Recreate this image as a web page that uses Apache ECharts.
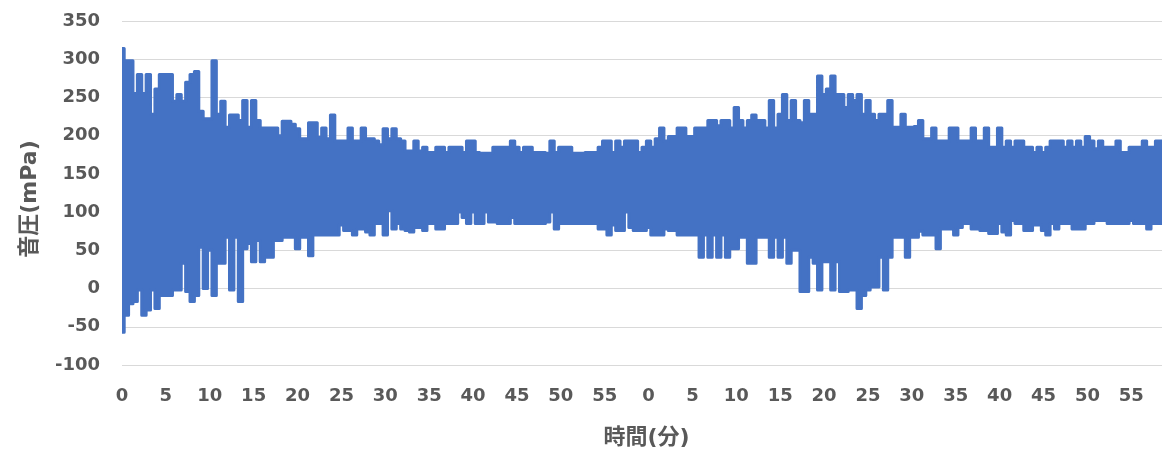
<!DOCTYPE html>
<html>
<head>
<meta charset="utf-8">
<title>音圧の時間変化</title>
<script src="https://cdn.jsdelivr.net/npm/echarts@6/dist/echarts.min.js"></script>
<style>
  html, body { margin: 0; padding: 0; background: #ffffff; }
  #chart { width: 1162px; height: 454px; }
</style>
</head>
<body>
<div id="chart"></div>
<script>
// Sampling step of the envelope readings, in minutes (two recorded hours back to back).
const STEP_MIN = 0.5;

// Upper envelope of the sound pressure signal (mPa), one value every 0.5 min.
const HIGH = [
  314, 298, 298, 255, 280, 255, 280, 228, 261, 280, 280, 280, 245, 254, 245, 270, 280, 284, 232, 222,
  222, 298, 228, 245, 211, 227, 227, 220, 246, 211, 246, 220, 210, 210, 210, 210, 200, 219, 219, 215,
  209, 196, 196, 217, 217, 198, 210, 196, 227, 193, 193, 193, 210, 193, 193, 210, 196, 196, 193, 188,
  209, 196, 209, 196, 193, 180, 180, 193, 180, 185, 178, 178, 185, 185, 178, 185, 185, 185, 178, 193,
  193, 178, 177, 177, 177, 185, 185, 185, 185, 193, 185, 178, 185, 185, 178, 178, 178, 177, 193, 178,
  185, 185, 185, 177, 177, 177, 178, 178, 178, 185, 193, 193, 178, 193, 185, 193, 193, 193, 178, 185,
  193, 185, 196, 210, 193, 199, 199, 210, 210, 199, 199, 210, 210, 210, 220, 220, 213, 220, 220, 210,
  237, 220, 210, 220, 227, 220, 220, 210, 246, 210, 228, 254, 220, 246, 220, 217, 246, 228, 228, 278,
  254, 261, 278, 254, 254, 237, 254, 246, 254, 228, 246, 228, 220, 228, 228, 246, 211, 211, 228, 211,
  211, 212, 220, 196, 196, 210, 193, 193, 193, 210, 210, 193, 193, 193, 210, 193, 193, 210, 185, 185,
  210, 185, 193, 185, 193, 193, 185, 185, 178, 185, 178, 185, 193, 193, 193, 185, 193, 185, 193, 185,
  199, 193, 183, 193, 185, 185, 185, 193, 178, 178, 185, 185, 185, 193, 185, 185, 193, 193
];

// Lower envelope of the sound pressure signal (mPa), same sampling.
const LOW = [
  -57, -35, -20, -17,  -2, -35, -28,  -2, -26,  -9,  -9,  -9,  -2,  -2,  33,  -4, -17,  -9,  54,   0,
   50,  -9,  33,  33,  67,  -2,  67, -17,  52,  59,  35,  63,  35,  41,  41,  63,  63,  67,  67,  67,
   52,  67,  67,  43,  70,  70,  70,  70,  70,  70,  83,  76,  76,  70,  78,  78,  74,  70,  85,  85,
   70, 102,  78,  85,  78,  76,  74,  80,  80,  76,  85,  85,  78,  78,  85,  85,  85, 100,  93,  85,
  100,  85,  85, 100,  87,  87,  85,  85,  85,  93,  85,  85,  85,  85,  85,  85,  85,  87, 100,  78,
   85,  85,  85,  85,  85,  85,  85,  85,  85,  78,  78,  70,  83,  76,  76, 100,  80,  76,  76,  76,
   80,  70,  70,  70,  78,  76,  76,  70,  70,  70,  70,  70,  41,  70,  41,  70,  41,  70,  41,  52,
   52,  67,  67,  33,  33,  67,  67,  67,  41,  67,  41,  67,  33,  50,  50,  -4,  -4,  41,  33,  -2,
   35,  35,  -2,  35,  -4,  -4,  -2,  -2, -26,  -9,  -2,   2,   2,  41,  -2,  41,  67,  67,  67,  41,
   67,  67,  75,  70,  70,  70,  52,  78,  78,  78,  70,  80,  85,  85,  78,  78,  76,  76,  72,  72,
   85,  74,  70,  89,  85,  85,  76,  76,  83,  83,  76,  70,  85,  78,  85,  85,  85,  78,  78,  78,
   85,  85,  89,  89,  89,  85,  85,  85,  85,  85,  89,  85,  85,  85,  78,  85,  85,  85
];

// Minute-of-hour labels shown every 5 minutes along the time axis.
const X_TICK_LABELS = [
  '0', '5', '10', '15', '20', '25', '30', '35', '40', '45', '50', '55',
  '0', '5', '10', '15', '20', '25', '30', '35', '40', '45', '50', '55'
];
const X_TICK_STEP = 5;

const Y_MIN = -100;
const Y_MAX = 350;
const Y_STEP = 50;

const X_TITLE = '時間(分)';
const Y_TITLE = '音圧(mPa)';

const BLUE = '#4472C4';
const TEXT_GRAY = '#595959';
const GRID_GRAY = '#d9d9d9';

const n = Math.min(HIGH.length, LOW.length);
const times = Array.from({ length: n }, (_, i) => String(i * STEP_MIN));
const samplesPerTick = Math.round(X_TICK_STEP / STEP_MIN);

const tickFont = {
  color: TEXT_GRAY,
  fontFamily: 'DejaVu Sans',
  fontWeight: 'bold',
  fontSize: 18
};
const titleFont = {
  color: TEXT_GRAY,
  fontFamily: "'DejaVu Sans', 'Noto Sans CJK JP'",
  fontWeight: 'bold',
  fontSize: 22
};

// The dense oscillation is drawn as one outlined shape: the upper envelope
// left to right, then the lower envelope back, each sample held for its own step.
function renderSignal(params, api) {
  const w = api.size([1, 0])[0];
  const pts = [];
  for (let i = 0; i < n; i++) {
    const c = api.coord([i, HIGH[i]]);
    const xl = i === 0 ? c[0] : c[0] - w / 2;
    const xr = i === n - 1 ? c[0] : c[0] + w / 2;
    pts.push([xl, c[1]], [xr, c[1]]);
  }
  for (let i = n - 1; i >= 0; i--) {
    const c = api.coord([i, LOW[i]]);
    const xl = i === 0 ? c[0] : c[0] - w / 2;
    const xr = i === n - 1 ? c[0] : c[0] + w / 2;
    pts.push([xr, c[1]], [xl, c[1]]);
  }
  return {
    type: 'polygon',
    shape: { points: pts },
    style: { fill: BLUE, stroke: BLUE, lineWidth: 3, lineJoin: 'round' }
  };
}

const chart = echarts.init(document.getElementById('chart'), null, { renderer: 'canvas' });

chart.setOption({
  animation: false,
  backgroundColor: '#ffffff',
  grid: { left: 122, right: 0, top: 21, bottom: 88.4, containLabel: false },
  xAxis: {
    type: 'category',
    data: times,
    boundaryGap: false,
    name: X_TITLE,
    nameLocation: 'middle',
    nameGap: 60,
    nameTextStyle: Object.assign({ padding: [2, 0, 0, 9] }, titleFont),
    axisLine: { show: false },
    axisTick: { show: false },
    splitLine: { show: false },
    axisLabel: Object.assign({
      margin: 22,
      interval: (index) => index % samplesPerTick === 0,
      formatter: (value, index) => X_TICK_LABELS[index / samplesPerTick] || ''
    }, tickFont)
  },
  yAxis: {
    type: 'value',
    min: Y_MIN,
    max: Y_MAX,
    interval: Y_STEP,
    name: Y_TITLE,
    nameLocation: 'middle',
    nameGap: 81,
    nameTextStyle: Object.assign({ padding: [0, 12, 0, 0] }, titleFont),
    axisLine: { show: false },
    axisTick: { show: false },
    splitLine: { show: true, lineStyle: { color: GRID_GRAY, width: 1 } },
    axisLabel: Object.assign({ margin: 22 }, tickFont)
  },
  series: [
    {
      name: '音圧',
      type: 'custom',
      renderItem: renderSignal,
      data: [[0, HIGH[0]]],
      encode: { x: 0, y: 1 },
      clip: true,
      silent: true,
      z: 2
    }
  ]
});
</script>
</body>
</html>
